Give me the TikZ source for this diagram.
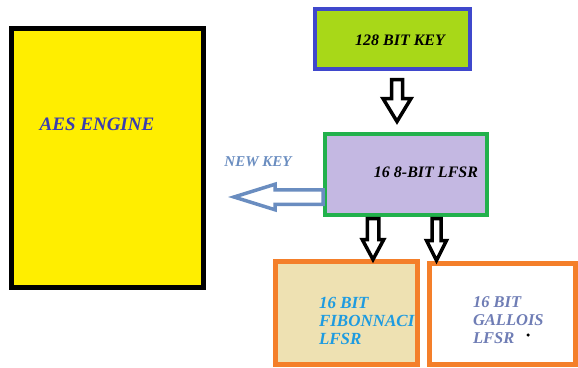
\documentclass[tikz,border=0pt]{standalone}
\usepackage{fontspec}
\setmainfont{Liberation Serif}
\usetikzlibrary{calc}
\definecolor{aesyellow}{HTML}{FFEE00}
\definecolor{aesblue}{HTML}{3A3DB0}
\definecolor{keylime}{HTML}{A8D818}
\definecolor{keyblue}{HTML}{3F48CC}
\definecolor{lgreen}{HTML}{22B14C}
\definecolor{lavender}{HTML}{C4B8E2}
\definecolor{lorange}{HTML}{F47F2A}
\definecolor{wheatfill}{HTML}{EEE1B2}
\definecolor{fibblue}{HTML}{1E9BE0}
\definecolor{galblue}{HTML}{6F7DB5}
\definecolor{arrowblue}{HTML}{6A8DC0}
\begin{document}
\begin{tikzpicture}[x=1pt,y=-1pt,
  box/.style={draw, inner sep=0pt, outer sep=0pt},
  lbl/.style={inner sep=0pt, outer sep=0pt},
  bi/.style={font=\fontsize{#1}{18}\selectfont\bfseries\itshape},
  hollow/.style={draw=black, fill=white, line width=3.5pt, line join=miter},
  pics/barrow/.style n args={4}{code={%
    % #1 shaft half width, #2 head half width, #3 head length, #4 total length
    \path[pic actions] (-#1,0) -- (-#1,#4-#3) -- (-#2,#4-#3) -- (0,#4)
      -- (#2,#4-#3) -- (#1,#4-#3) -- (#1,0) -- cycle;}}]
\useasboundingbox (0,0) rectangle (578,367);

% AES engine
\node[box, line width=4.5pt, fill=aesyellow, minimum width=192pt, minimum height=259pt] (aes) at (107.5,158) {};
\node[lbl, bi=19, text=aesblue] (aestext) at (97,124) {AES ENGINE};

% 128 bit key
\node[box, line width=4pt, draw=keyblue, fill=keylime, minimum width=155pt, minimum height=60pt] (key) at (392.5,39) {};
\node[lbl, bi=16, text=black] (keytext) at (400,40) {128 BIT KEY};

% 16 8-bit LFSR
\node[box, line width=4pt, draw=lgreen, fill=lavender, minimum width=162pt, minimum height=81pt] (lfsr) at (406,174.5) {};
\node[lbl, bi=16, text=black] (lfsrtext) at (426,172) {16 8-BIT LFSR};

% Fibonacci LFSR
\node[box, line width=5pt, draw=lorange, fill=wheatfill, minimum width=142pt, minimum height=103pt] (fib) at (346.5,313) {};
\node[lbl, bi=17, text=fibblue, align=left, anchor=west] (fibtext) at (319,321) {16 BIT\\FIBONNACI\\LFSR};

% Gallois LFSR
\node[box, line width=5pt, draw=lorange, fill=white, minimum width=146pt, minimum height=101pt] (gal) at (502,314) {};
\node[lbl, bi=16.5, text=galblue, align=left, anchor=west] (galtext) at (473,320) {16 BIT\\GALLOIS\\LFSR};
\node[circle, fill=black, inner sep=0pt, minimum size=3.5pt] (dot) at (528,335) {};

% connector start points
\coordinate (a1) at ($(key.south)+(4.5,10.5)$);
\coordinate (a2) at ($(lfsr.south)+(-33,3.5)$);
\coordinate (a3) at ($(lfsr.south)+(30.5,3.5)$);
\coordinate (a4) at ($(lfsr.west)+(-2,22.5)$);

% key -> lfsr
\pic[hollow] at (a1) {barrow={5.5}{14}{23}{42}};
% lfsr -> fib, lfsr -> gal
\pic[hollow] at (a2) {barrow={5.75}{10.75}{20}{41}};
\pic[hollow] at (a3) {barrow={4.5}{10}{20}{42}};
% lfsr -> new key (towards AES)
\pic[hollow, draw=arrowblue, rotate=-90] at (a4) {barrow={7.25}{12.75}{41}{89}};
\node[lbl, bi=15, text=arrowblue] (newkey) at (258,162) {NEW KEY};
\end{tikzpicture}
\end{document}
